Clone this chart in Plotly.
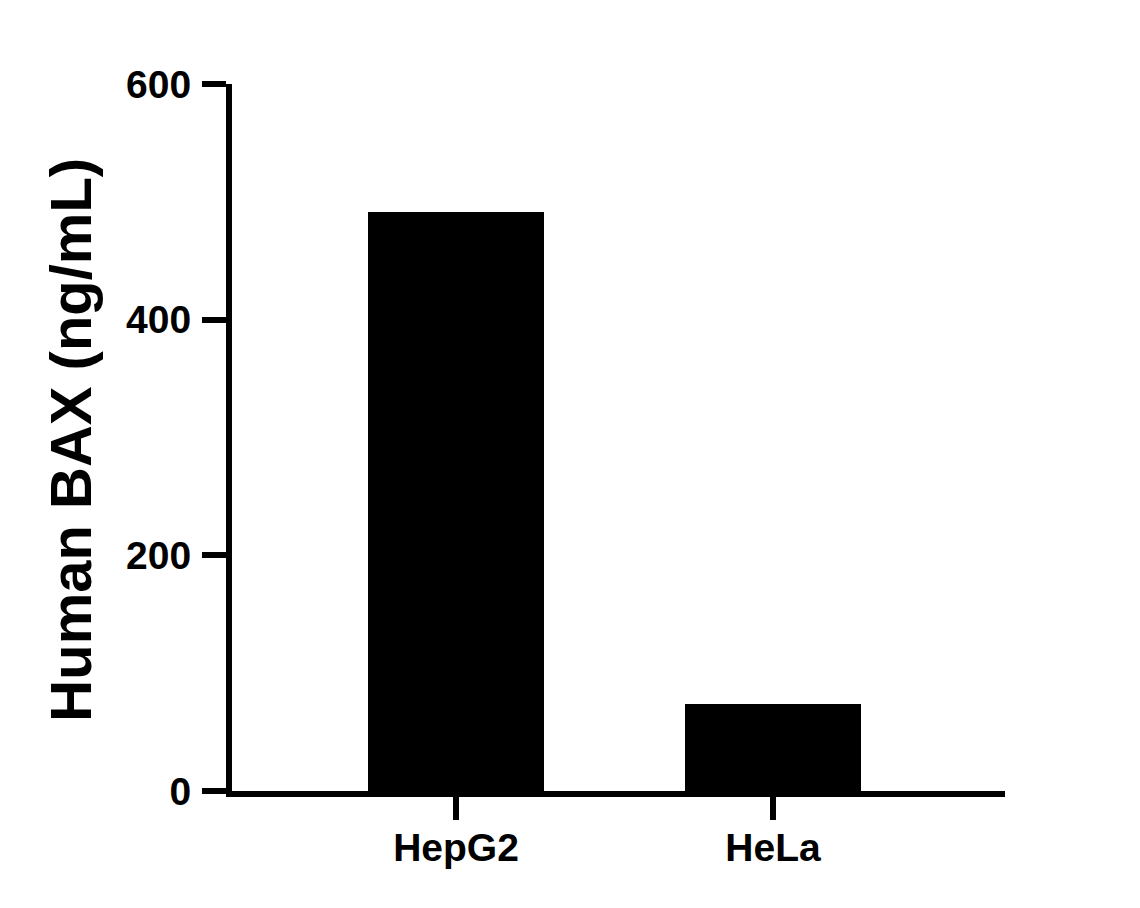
import plotly.graph_objects as go

categories = ["HepG2", "HeLa"]
values = [491, 74]
y_ticks = [0, 200, 400, 600]
y_title = "Human BAX (ng/mL)"

FONT = "Liberation Sans, Arial, sans-serif"

fig = go.Figure()
fig.add_trace(go.Bar(
    x=categories, y=values,
    marker=dict(color="black", line=dict(width=0)),
    width=0.555,
))

fig.update_layout(
    width=1140, height=908,
    paper_bgcolor="white", plot_bgcolor="white",
    margin=dict(l=224, r=143, t=76, b=125),
    showlegend=False,
    font=dict(family=FONT, color="black"),
    bargap=0,
)
fig.update_xaxes(
    type="category", range=[-0.7066, 1.7319],
    showline=True, linecolor="black", linewidth=6,
    ticks="outside", ticklen=23, tickwidth=6, tickcolor="black",
    tickfont=dict(family=FONT, size=39, color="black", weight="bold"),
    ticklabelstandoff=-6,
    showgrid=False, zeroline=False, fixedrange=True,
)
fig.update_yaxes(
    range=[0, 600], tickvals=y_ticks,
    showline=True, linecolor="black", linewidth=6,
    ticks="outside", ticklen=24, tickwidth=6, tickcolor="black",
    tickfont=dict(family=FONT, size=39, color="black", weight="bold"),
    ticklabelstandoff=3,
    showgrid=False, zeroline=False, fixedrange=True,
)
fig.add_annotation(
    text=y_title, textangle=-90,
    xref="paper", yref="paper", x=-0.2082, y=0.497,
    xanchor="center", yanchor="middle", showarrow=False,
    font=dict(family=FONT, size=58, color="black", weight="bold"),
)
fig.write_html("out.html")
